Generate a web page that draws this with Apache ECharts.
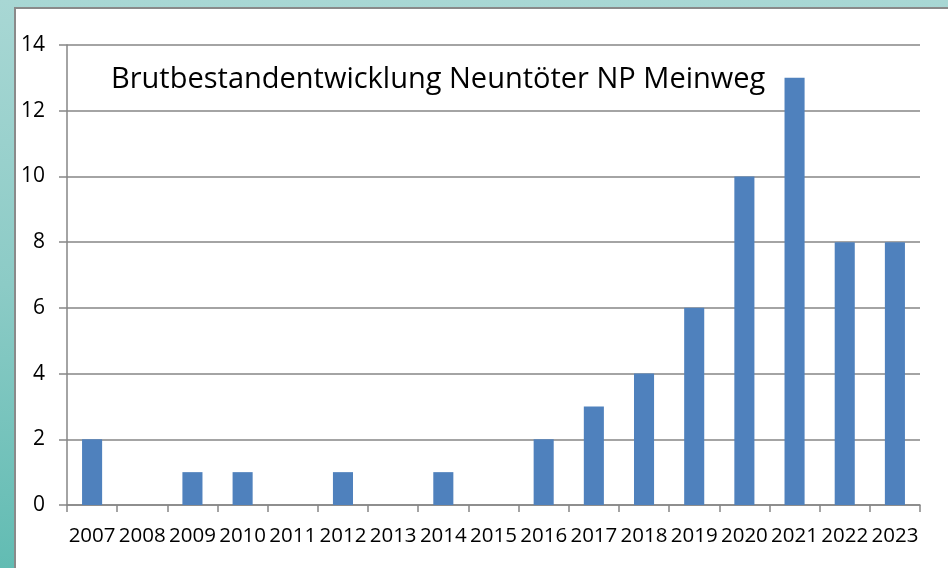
<!DOCTYPE html>
<html><head><meta charset="utf-8">
<script src="https://cdn.jsdelivr.net/npm/echarts@6/dist/echarts.min.js"></script>
<style>
html,body{margin:0;padding:0;width:948px;height:568px;overflow:hidden;}
body{background:linear-gradient(to bottom,#a8d7d4 0%,#8ccbc6 50%,#62bcb3 100%);position:relative;}
#panel{position:absolute;left:14px;top:7px;width:934px;height:561px;background:#fff;border-left:2px solid #8a8a8a;border-top:2px solid #8a8a8a;box-sizing:border-box;}
#chart{position:absolute;left:0;top:0;width:948px;height:568px;}
</style></head>
<body>
<div id="panel"></div>
<div id="chart"></div>
<script>
const titleText = 'Brutbestandentwicklung Neuntöter NP Meinweg';
const years = ['2007','2008','2009','2010','2011','2012','2013','2014','2015','2016','2017','2018','2019','2020','2021','2022','2023'];
const pairs = [2,0,1,1,0,1,0,1,0,2,3,4,6,10,13,8,8];
const yTicks = {min:0, max:14, interval:2};

const chart = echarts.init(document.getElementById('chart'), null, {renderer:'canvas'});
const font = '"Open Sans", "DejaVu Sans", sans-serif';
chart.setOption({
  backgroundColor:'transparent',
  animation:false,
  title:{text:titleText, left:106, top:60, textStyle:{fontFamily:font, fontSize:29, fontWeight:'normal', color:'#000'}},
  grid:{left:67, right:28, top:45, bottom:63},
  xAxis:{type:'category', data:years,
    axisLine:{lineStyle:{color:'#868686', width:1.5}},
    axisTick:{show:true, length:7, lineStyle:{color:'#868686', width:1.5}},
    axisLabel:{interval:0, margin:21, color:'#000', fontFamily:font, fontSize:20.5}},
  yAxis:{type:'value', min:yTicks.min, max:yTicks.max, interval:yTicks.interval,
    axisLine:{show:true, lineStyle:{color:'#868686', width:1.5}},
    axisTick:{show:true, length:8, lineStyle:{color:'#868686', width:1.5}},
    splitLine:{lineStyle:{color:'#868686', width:1.5}},
    axisLabel:{margin:22, color:'#000', fontFamily:font, fontSize:21}},
  series:[{type:'bar', data:pairs, barWidth:'40%', itemStyle:{color:'#4f81bd'}}]
});
</script>
</body></html>
